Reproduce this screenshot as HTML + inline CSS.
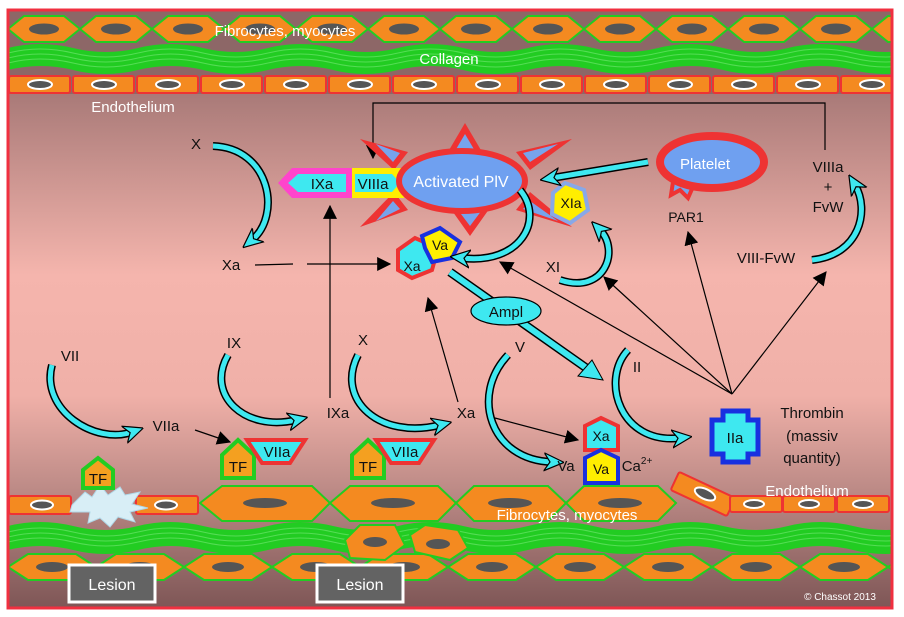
<!DOCTYPE html>
<html><head><meta charset="utf-8"><style>
html,body{margin:0;padding:0;background:#fff}
svg{display:block}
text{font-family:"Liberation Sans",sans-serif}
</style></head><body>
<svg width="904" height="617" viewBox="0 0 904 617" xmlns="http://www.w3.org/2000/svg">
<defs>
<linearGradient id="lum" x1="0" y1="0" x2="0" y2="1">
<stop offset="0" stop-color="#a97a78"/><stop offset="0.45" stop-color="#f5b5ad"/><stop offset="0.75" stop-color="#f0b0a8"/><stop offset="1" stop-color="#b98884"/>
</linearGradient>
<linearGradient id="bot" x1="0" y1="0" x2="0" y2="1">
<stop offset="0" stop-color="#b98884"/><stop offset="1" stop-color="#7e5656"/>
</linearGradient>
<pattern id="fib" x="8" y="14" width="72" height="30" patternUnits="userSpaceOnUse">
<polygon points="0,15 16,2 56,2 72,15 56,28 16,28" fill="#f48a20" stroke="#22cc22" stroke-width="2"/>
<ellipse cx="36" cy="15" rx="15" ry="5.5" fill="#555"/>
</pattern>
<pattern id="endo" x="8" y="75" width="64" height="19" patternUnits="userSpaceOnUse">
<rect x="1" y="1" width="61" height="17" rx="2" fill="#f48a20" stroke="#ee3333" stroke-width="2"/>
<ellipse cx="32" cy="9.5" rx="12" ry="4.5" fill="#555" stroke="#fff" stroke-width="2"/>
</pattern>
<pattern id="col" x="8" y="40" width="130" height="34" patternUnits="userSpaceOnUse">
<path d="M0,8 Q32,0 65,8 T130,8 L130,30 Q97,38 65,30 T0,30 Z" fill="#22cc22"/>
<path d="M0,13 Q32,5 65,13 T130,13 M0,18 Q32,10 65,18 T130,18 M0,23 Q32,15 65,23 T130,23" stroke="#55dd55" stroke-width="1" fill="none"/>
</pattern>
<pattern id="colb" x="8" y="518" width="130" height="38" patternUnits="userSpaceOnUse">
<path d="M0,8 Q32,0 65,8 T130,8 L130,32 Q97,40 65,32 T0,32 Z" fill="#22cc22"/>
<path d="M0,14 Q32,6 65,14 T130,14 M0,19 Q32,11 65,19 T130,19 M0,24 Q32,16 65,24 T130,24" stroke="#55dd55" stroke-width="1" fill="none"/>
</pattern>
<pattern id="fibb" x="8" y="552" width="88" height="30" patternUnits="userSpaceOnUse">
<polygon points="0,15 20,2 68,2 88,15 68,28 20,28" fill="#f48a20" stroke="#22cc22" stroke-width="2"/>
<ellipse cx="44" cy="15" rx="16" ry="5" fill="#555"/>
</pattern>
<marker id="ca" viewBox="0 0 20 20" refX="8" refY="10" markerWidth="20" markerHeight="20" markerUnits="userSpaceOnUse" orient="auto">
<path d="M0,1 L20,10 L0,19 L6,10 Z" fill="#3ee8f0" stroke="#000" stroke-width="1.2"/>
</marker>
<marker id="ba" viewBox="0 0 12 12" refX="11" refY="6" markerWidth="14" markerHeight="14" markerUnits="userSpaceOnUse" orient="auto">
<path d="M0,0 L12,6 L0,12 Z" fill="#000"/>
</marker>
</defs>

<rect x="8" y="10" width="884" height="84" fill="#8d6767"/>
<rect x="8" y="94" width="884" height="402" fill="url(#lum)"/>
<rect x="8" y="496" width="884" height="112" fill="url(#bot)"/>

<rect x="8" y="14" width="884" height="30" fill="url(#fib)"/>
<rect x="8" y="40" width="884" height="34" fill="url(#col)"/>
<rect x="8" y="75" width="884" height="19" fill="url(#endo)"/>
<text x="285" y="36" font-size="15" fill="#fff" text-anchor="middle">Fibrocytes, myocytes</text>
<text x="449" y="64" font-size="15" fill="#fff" text-anchor="middle">Collagen</text>
<text x="133" y="112" font-size="15" fill="#fff" text-anchor="middle">Endothelium</text>

<rect x="8" y="518" width="884" height="38" fill="url(#colb)"/>
<rect x="8" y="552" width="884" height="30" fill="url(#fibb)"/>
<g stroke="#22cc22" stroke-width="2" fill="#f48a20">
<polygon points="200,503 222,486 312,486 330,503 312,521 222,521"/>
<polygon points="330,503 350,486 438,486 456,503 438,521 350,521"/>
<polygon points="456,503 474,486 548,486 566,503 548,521 474,521"/>
<polygon points="566,503 584,486 658,486 676,503 658,521 584,521"/>
<polygon points="345,540 360,525 395,525 405,545 385,560 350,558"/>
<polygon points="410,535 425,525 458,530 468,548 450,560 415,552"/>
</g>
<g fill="#555"><ellipse cx="265" cy="503" rx="22" ry="5"/><ellipse cx="393" cy="503" rx="22" ry="5"/><ellipse cx="510" cy="503" rx="22" ry="5"/><ellipse cx="620" cy="503" rx="22" ry="5"/><ellipse cx="375" cy="542" rx="12" ry="5"/><ellipse cx="438" cy="544" rx="12" ry="5"/></g>
<g fill="#f48a20" stroke="#ee3333" stroke-width="2">
<rect x="9" y="496" width="62" height="18" rx="2"/><rect x="136" y="496" width="62" height="18" rx="2"/>
<rect x="672" y="484" width="62" height="20" rx="2" transform="rotate(25 703 494)"/>
<rect x="730" y="496" width="52" height="16" rx="2"/><rect x="783" y="496" width="52" height="16" rx="2"/><rect x="837" y="496" width="52" height="16" rx="2"/>
</g>
<g fill="#555" stroke="#fff" stroke-width="2">
<ellipse cx="42" cy="505" rx="11" ry="4.5"/><ellipse cx="166" cy="505" rx="11" ry="4.5"/><ellipse cx="705" cy="494" rx="11" ry="5" transform="rotate(25 705 494)"/><ellipse cx="754" cy="504" rx="10" ry="4"/><ellipse cx="809" cy="504" rx="10" ry="4"/><ellipse cx="863" cy="504" rx="10" ry="4"/>
</g>
<polygon points="72,505 85,492 92,497 100,485 108,495 120,487 125,495 140,492 132,504 148,508 130,512 135,522 118,517 110,527 100,518 88,523 90,512 70,512" fill="#d8eef6" stroke="#b0d8e8"/>
<text x="567" y="520" font-size="15" fill="#fff" text-anchor="middle">Fibrocytes, myocytes</text>
<text x="807" y="496" font-size="15" fill="#fff" text-anchor="middle">Endothelium</text>
<rect x="69" y="565" width="86" height="37" fill="#636363" stroke="#fff" stroke-width="3"/>
<text x="112" y="590" font-size="16" fill="#fff" text-anchor="middle">Lesion</text>
<rect x="317" y="565" width="86" height="37" fill="#636363" stroke="#fff" stroke-width="3"/>
<text x="360" y="590" font-size="16" fill="#fff" text-anchor="middle">Lesion</text>
<text x="840" y="600" font-size="10" fill="#fff" text-anchor="middle">© Chassot 2013</text>

<rect x="8" y="10" width="884" height="598" fill="none" stroke="#f03040" stroke-width="3"/>

<g stroke="#000" stroke-width="1.2" fill="none">
<path d="M825,150 V103 H373 V158" marker-end="url(#ba)"/>
<line x1="255" y1="265" x2="293" y2="264"/>
<line x1="307" y1="264" x2="390" y2="264" marker-end="url(#ba)"/>
<line x1="330" y1="398" x2="330" y2="206" marker-end="url(#ba)"/>
<line x1="458" y1="402" x2="428" y2="298" marker-end="url(#ba)"/>
<line x1="195" y1="430" x2="230" y2="442" marker-end="url(#ba)"/>
<line x1="495" y1="418" x2="578" y2="440" marker-end="url(#ba)"/>
<line x1="732" y1="394" x2="500" y2="262" marker-end="url(#ba)"/>
<line x1="732" y1="394" x2="604" y2="277" marker-end="url(#ba)"/>
<line x1="732" y1="394" x2="688" y2="232" marker-end="url(#ba)"/>
<line x1="732" y1="394" x2="826" y2="272" marker-end="url(#ba)"/>
</g>

<g fill="#ee3333">
<polygon points="465,123 445,157 485,157"/>
<polygon points="360,139 408,152 394,170"/>
<polygon points="572,139 530,170 516,152"/>
<polygon points="360,227 394,192 408,210"/>
<polygon points="572,227 516,210 530,192"/>
<polygon points="470,236 448,205 492,205"/>
</g>
<g fill="#77a4ec">
<polygon points="465,134 455,151 475,151"/>
<polygon points="376,144 400,153 393,162"/>
<polygon points="558,144 530,162 523,153"/>
<polygon points="376,221 393,201 400,209"/>
<polygon points="558,221 523,209 530,201"/>
<polygon points="470,226 458,210 482,210"/>
</g>
<polygon points="278,183 292,168 352,168 352,198 292,198" fill="#ff44cc"/>
<polygon points="288,183 298,174 346,174 346,192 298,192" fill="#3ee8f0"/>
<rect x="352" y="168" width="52" height="30" fill="#ffee00"/>
<polygon points="355,174 392,174 400,183 392,192 355,192" fill="#3ee8f0"/>
<text x="322" y="189" font-size="15" fill="#111" text-anchor="middle">IXa</text>
<text x="373" y="189" font-size="15" fill="#111" text-anchor="middle">VIIIa</text>
<ellipse cx="462" cy="181" rx="63" ry="30" fill="#6fa0f0" stroke="#ee3333" stroke-width="6"/>
<text x="461" y="187" font-size="16" fill="#fff" text-anchor="middle">Activated PlV</text>

<polygon points="398,250 415,238 438,248 432,270 412,278 398,270" fill="#3ee8f0" stroke="#ee3333" stroke-width="4"/>
<polygon points="422,236 440,228 460,242 452,258 432,262 425,248" fill="#ffee00" stroke="#1830e0" stroke-width="4"/>
<text x="412" y="271" font-size="14" fill="#111" text-anchor="middle">Xa</text>
<text x="440" y="250" font-size="14" fill="#111" text-anchor="middle">Va</text>

<polygon points="673,182 696,180 688,198 680,190 671,195" fill="#77a4ec" stroke="#ee3333" stroke-width="4"/>
<ellipse cx="712" cy="162" rx="52" ry="26" fill="#6fa0f0" stroke="#ee3333" stroke-width="8"/>
<text x="705" y="169" font-size="15" fill="#fff" text-anchor="middle">Platelet</text>
<text x="686" y="222" font-size="14" fill="#111" text-anchor="middle">PAR1</text>

<polygon points="565,183 584,190 588,210 570,223 552,214 553,193" fill="#ffee00" stroke="#88a8e8" stroke-width="4"/>
<text x="571" y="208" font-size="14" fill="#111" text-anchor="middle">XIa</text>

<g>
<line x1="450" y1="272" x2="592" y2="372" stroke="#000" stroke-width="9"/>
<line x1="450" y1="272" x2="592" y2="372" stroke="#3ee8f0" stroke-width="6"/>
<polygon points="603,380 578,376 592,360" fill="#3ee8f0" stroke="#000"/>
</g>
<ellipse cx="506" cy="311" rx="35" ry="14" fill="#3ee8f0" stroke="#000" stroke-width="1.2"/>
<text x="506" y="317" font-size="15" fill="#111" text-anchor="middle">Ampl</text>

<g fill="none" stroke="#000" stroke-width="8" stroke-linecap="butt">
<path d="M213,146 C270,148 282,215 252,240"/>
<path d="M648,162 L552,178"/>
<path d="M520,190 C545,220 520,265 462,258"/>
<path d="M560,280 C605,295 620,250 600,230"/>
<path d="M812,260 C860,255 870,210 855,185"/>
<path d="M228,355 C205,395 245,432 296,420"/>
<path d="M52,365 C40,410 95,445 132,432"/>
<path d="M358,355 C335,400 380,440 440,425"/>
<path d="M508,355 C470,395 490,460 552,462"/>
<path d="M628,350 C600,380 620,445 680,438"/>
</g>
<g fill="none" stroke="#3ee8f0" stroke-width="5" stroke-linecap="butt">
<path d="M213,146 C270,148 282,215 252,240" marker-end="url(#ca)"/>
<path d="M648,162 L552,178" marker-end="url(#ca)"/>
<path d="M520,190 C545,220 520,265 462,258" marker-end="url(#ca)"/>
<path d="M560,280 C605,295 620,250 600,230" marker-end="url(#ca)"/>
<path d="M812,260 C860,255 870,210 855,185" marker-end="url(#ca)"/>
<path d="M228,355 C205,395 245,432 296,420" marker-end="url(#ca)"/>
<path d="M52,365 C40,410 95,445 132,432" marker-end="url(#ca)"/>
<path d="M358,355 C335,400 380,440 440,425" marker-end="url(#ca)"/>
<path d="M508,355 C470,395 490,460 552,462" marker-end="url(#ca)"/>
<path d="M628,350 C600,380 620,445 680,438" marker-end="url(#ca)"/>
</g>

<g font-size="15" fill="#111" text-anchor="middle">
<text x="196" y="149">X</text>
<text x="231" y="270">Xa</text>
<text x="553" y="272">XI</text>
<text x="828" y="172">VIIIa</text>
<text x="828" y="192">+</text>
<text x="828" y="212">FvW</text>
<text x="766" y="263">VIII-FvW</text>
<text x="70" y="361">VII</text>
<text x="166" y="431">VIIa</text>
<text x="234" y="348">IX</text>
<text x="338" y="418">IXa</text>
<text x="363" y="345">X</text>
<text x="466" y="418">Xa</text>
<text x="520" y="352">V</text>
<text x="566" y="471">Va</text>
<text x="637" y="372">II</text>
<text x="812" y="418">Thrombin</text>
<text x="812" y="441">(massiv</text>
<text x="812" y="463">quantity)</text>
<text x="637" y="471">Ca<tspan font-size="10" dy="-7">2+</tspan></text>
</g>

<g stroke-width="4">
<polygon points="83,488 83,470 98,458 113,470 113,488" fill="#f4a020" stroke="#22cc22"/>
<polygon points="222,478 222,455 238,440 254,455 254,478" fill="#f4a020" stroke="#22cc22"/>
<polygon points="352,478 352,455 368,440 384,455 384,478" fill="#f4a020" stroke="#22cc22"/>
<polygon points="247,440 305,440 290,463 262,463" fill="#3ee8f0" stroke="#ee3333"/>
<polygon points="376,440 434,440 419,463 391,463" fill="#3ee8f0" stroke="#ee3333"/>
</g>
<g font-size="15" fill="#111" text-anchor="middle">
<text x="98" y="484">TF</text><text x="238" y="472">TF</text><text x="368" y="472">TF</text>
<text x="277" y="457">VIIa</text><text x="405" y="457">VIIa</text>
</g>

<polygon points="585,450 585,426 601,418 618,426 618,450" fill="#3ee8f0" stroke="#ee3333" stroke-width="4"/>
<polygon points="585,483 585,458 601,450 618,458 618,483" fill="#ffee00" stroke="#1830e0" stroke-width="4"/>
<text x="601" y="441" font-size="14" fill="#111" text-anchor="middle">Xa</text>
<text x="601" y="474" font-size="14" fill="#111" text-anchor="middle">Va</text>

<polygon points="723,411 748,411 748,420 758,420 758,454 748,454 748,462 723,462 723,454 712,454 712,420 723,420" fill="#3ee8f0" stroke="#1830e0" stroke-width="5"/>
<text x="735" y="443" font-size="15" fill="#111" text-anchor="middle">IIa</text>
</svg>
</body></html>
